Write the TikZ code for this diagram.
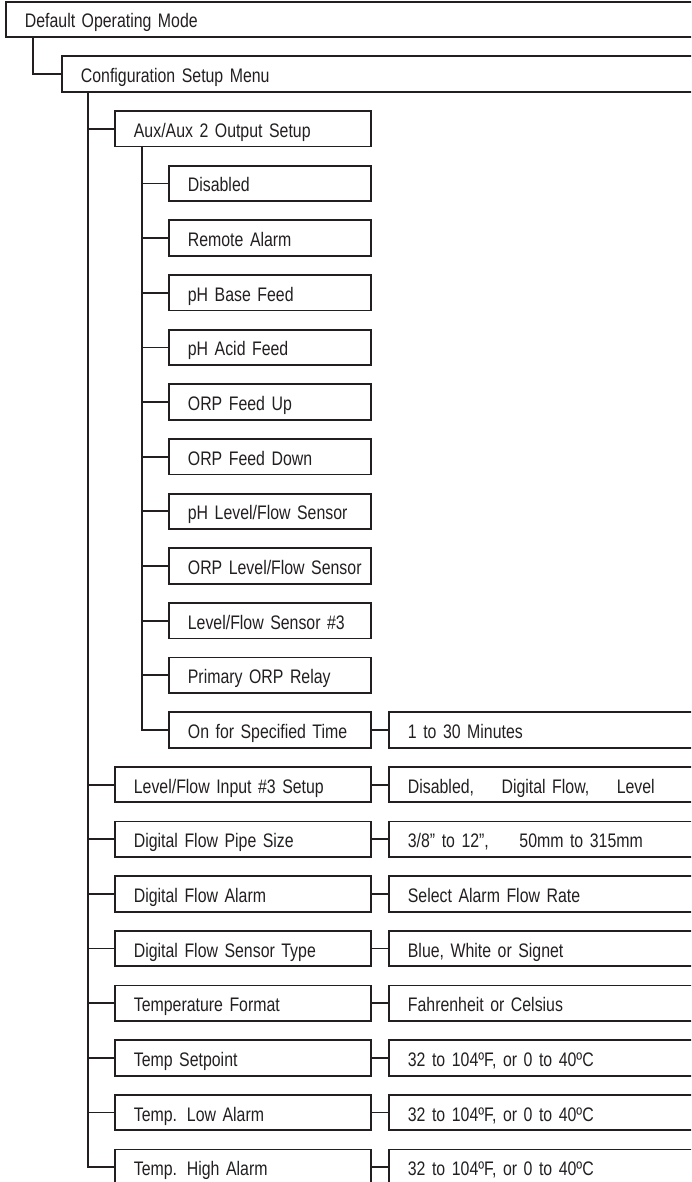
\documentclass[tikz,border=0pt]{standalone}
\usepackage{fontspec}
\setmainfont{Liberation Sans}[FakeStretch=0.81]
\definecolor{ink}{RGB}{35,31,32}
\newcommand\lab{\fontsize{19.6}{22}\selectfont\spaceskip=3.6pt plus 2pt minus 1pt\relax}
\begin{document}
\begin{tikzpicture}[x=1pt,y=-54.65pt,
  box/.style={draw=ink, text=ink, line width=1.8pt, anchor=west, minimum height=35.5pt,
    inner xsep=19pt, inner ysep=0pt, text height=17pt, text depth=0pt, align=left, font=\lab},
  midbox/.style={box, minimum width=256pt, text width=218pt},
  subbox/.style={box, minimum width=202pt, text width=164pt},
  valbox/.style={box, minimum width=332pt, text width=294pt},
  link/.style={draw=ink, line width=1.8pt}]
\useasboundingbox (0pt,0pt) rectangle (691pt,-1182pt);
\clip (0pt,0pt) rectangle (691pt,-1182pt);
\begin{scope}[yshift=-19.5pt]
% top levels
\node[box, minimum width=715pt, text width=677pt] (dom) at (5,0) {Default Operating Mode};
\node[box, minimum width=659pt, text width=621pt] (csm) at (61,1) {Configuration Setup Menu};
% second level
\node[midbox] (aux) at (114,2) {Aux/Aux 2 Output Setup};
\node[subbox] (s1) at (168,3) {Disabled};
\node[subbox] (s2) at (168,4) {Remote Alarm};
\node[subbox] (s3) at (168,5) {pH Base Feed};
\node[subbox] (s4) at (168,6) {pH Acid Feed};
\node[subbox] (s5) at (168,7) {ORP Feed Up};
\node[subbox] (s6) at (168,8) {ORP Feed Down};
\node[subbox] (s7) at (168,9) {\mbox{pH Level/Flow Sensor}};
\node[subbox] (s8) at (168,10) {\mbox{ORP Level/Flow Sensor}};
\node[subbox] (s9) at (168,11) {\mbox{Level/Flow Sensor \#3}};
\node[subbox] (s10) at (168,12) {Primary ORP Relay};
\node[subbox] (s11) at (168,13) {\mbox{On for Specified Time}};
\node[valbox] (v11) at (388,13) {1 to 30 Minutes};
\node[midbox] (m1) at (114,14) {Level/Flow Input \#3 Setup};
\node[valbox] (v1) at (388,14) {Disabled,\hspace{21pt} Digital Flow,\hspace{21pt} Level};
\node[midbox] (m2) at (114,15) {Digital Flow Pipe Size};
\node[valbox] (v2) at (388,15) {3/8" to 12”,\hspace{24pt} 50mm to 315mm};
\node[midbox] (m3) at (114,16) {Digital Flow Alarm};
\node[valbox] (v3) at (388,16) {Select Alarm Flow Rate};
\node[midbox] (m4) at (114,17) {Digital Flow Sensor Type};
\node[valbox] (v4) at (388,17) {Blue, White or Signet};
\node[midbox] (m5) at (114,18) {Temperature Format};
\node[valbox] (v5) at (388,18) {Fahrenheit or Celsius};
\node[midbox] (m6) at (114,19) {Temp Setpoint};
\node[valbox] (v6) at (388,19) {32 to 104ºF, or 0 to 40ºC};
\node[midbox] (m7) at (114,20) {Temp. Low Alarm};
\node[valbox] (v7) at (388,20) {32 to 104ºF, or 0 to 40ºC};
\node[midbox] (m8) at (114,21) {Temp. High Alarm};
\node[valbox] (v8) at (388,21) {32 to 104ºF, or 0 to 40ºC};
% connectors
\draw[link] ([xshift=28pt]dom.south west) |- (csm.west);
\foreach \c in {aux,m1,m2,m3,m4,m5,m6,m7,m8}
  \draw[link] ([xshift=27pt]csm.south west) |- (\c.west);
\foreach \c in {s1,s2,s3,s4,s5,s6,s7,s8,s9,s10,s11}
  \draw[link] ([xshift=28pt]aux.south west) |- (\c.west);
\draw[link] (s11.east) -- (v11.west);
\foreach \i in {1,...,8}
  \draw[link] (m\i.east) -- (v\i.west);
\end{scope}
\end{tikzpicture}
\end{document}
